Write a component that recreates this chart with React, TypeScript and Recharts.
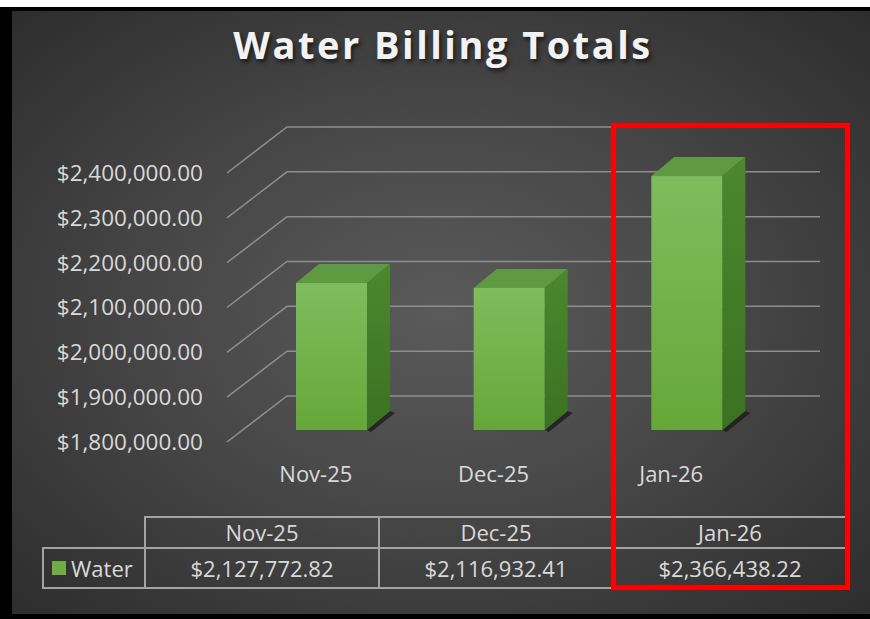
import React from "react";
import { BarChart, Bar, XAxis, YAxis, CartesianGrid } from "recharts";

const months = ["Nov-25", "Dec-25", "Jan-26"];
const waterTotals = [2127772.82, 2116932.41, 2366438.22];
const yTicks = [1800000, 1900000, 2000000, 2100000, 2200000, 2300000, 2400000];
const seriesName = "Water";
const chartTitle = "Water Billing Totals";

const data = months.map((m, i) => ({ month: m, water: waterTotals[i] }));

const FONT = "'Open Sans', 'Noto Sans', sans-serif";
const TEXT = "#d9d9d9";

// 3d offsets: back wall and bar placement in depth
const WALL_X = 60;
const WALL_Y = -46;
const OFF_X = 16;
const OFF_Y = -12;
const DEP_X = 23;
const DEP_Y = -19;

const money = (v: number) =>
  "$" + v.toLocaleString("en-US", { minimumFractionDigits: 2, maximumFractionDigits: 2 });

const Bar3D = (props: any) => {
  const { x, y, width, height, index } = props;
  const fx = x + OFF_X;
  const fy = y + OFF_Y;
  const w = width;
  const h = height;
  const fid = `front-${index}`;
  const sid = `side-${index}`;
  return (
    <g>
      <defs>
        <linearGradient id={fid} x1="0" y1="0" x2="0" y2="1">
          <stop offset="0%" stopColor="#7fbc5d" />
          <stop offset="100%" stopColor="#66a739" />
        </linearGradient>
        <linearGradient id={sid} x1="0" y1="0" x2="0" y2="1">
          <stop offset="0%" stopColor="#4c882e" />
          <stop offset="100%" stopColor="#3b7122" />
        </linearGradient>
      </defs>
      <polygon
        points={`${fx + w},${fy + h} ${fx + w + DEP_X},${fy + h + DEP_Y} ${fx + w + DEP_X + 5},${fy + h + DEP_Y + 2} ${fx + w + 4},${fy + h + 2}`}
        fill="#1c1c1c"
        opacity={0.8}
      />
      <polygon
        points={`${fx},${fy} ${fx + DEP_X},${fy + DEP_Y} ${fx + w + DEP_X},${fy + DEP_Y} ${fx + w},${fy}`}
        fill="#5f9941"
      />
      <polygon
        points={`${fx + w},${fy} ${fx + w + DEP_X},${fy + DEP_Y} ${fx + w + DEP_X},${fy + h + DEP_Y} ${fx + w},${fy + h}`}
        fill={`url(#${sid})`}
      />
      <rect x={fx} y={fy} width={w} height={h} fill={`url(#${fid})`} />
    </g>
  );
};

const gridLine = (p: any) => (
  <path
    key={p.key ?? `g-${p.index}`}
    d={`M${p.x1},${p.y1} L${p.x1 + WALL_X},${p.y1 + WALL_Y} L${p.x2 + WALL_X},${p.y1 + WALL_Y}`}
    stroke="#8e8e8e"
    strokeWidth={1.5}
    fill="none"
  />
);

const line = "2px solid #a3a3a3";

const App = () => {
  const colW = 234;
  const tableLeft = 144;
  return (
    <div style={{ position: "relative", width: 870, height: 619, background: "#fff", overflow: "hidden" }}>
      <style>{"body{margin:0}"}</style>
      <div
        style={{
          position: "absolute",
          left: 0,
          top: 7,
          width: 870,
          height: 612,
          boxSizing: "border-box",
          borderTop: "4px solid #000",
          borderLeft: "12px solid #000",
          borderBottom: "5px solid #000",
          background: "radial-gradient(ellipse at 50% 50%, #5a5a5a 0%, #484848 45%, #2d2d2d 100%)",
        }}
      />
      <div
        style={{
          position: "absolute",
          left: 0,
          width: 886,
          top: 18,
          textAlign: "center",
          fontFamily: FONT,
          fontWeight: 700,
          fontSize: 38,
          letterSpacing: 2.5,
          color: "#f2f2f2",
          textShadow: "2px 3px 4px rgba(0,0,0,0.6)",
        }}
      >
        {chartTitle}
      </div>
      <div style={{ position: "absolute", left: 0, top: 0 }}>
        <BarChart width={870} height={619} data={data} margin={{ top: 173, right: 110, bottom: 137, left: 0 }}>
          <CartesianGrid vertical={false} horizontal={gridLine} />
          <YAxis
            domain={[1800000, 2400000]}
            ticks={yTicks}
            width={227}
            tickSize={0}
            tickMargin={24}
            axisLine={false}
            tickLine={false}
            tickFormatter={money}
            tick={{ fill: TEXT, fontSize: 22.5, fontFamily: FONT }}
          />
          <XAxis
            dataKey="month"
            height={40}
            tickSize={0}
            tickMargin={24}
            axisLine={false}
            tickLine={false}
            tick={{ fill: TEXT, fontSize: 22, fontFamily: FONT }}
          />
          <Bar dataKey="water" name={seriesName} barSize={71} shape={Bar3D} isAnimationActive={false} />
        </BarChart>
      </div>
      {/* data table */}
      <div style={{ position: "absolute", left: 0, top: 0, fontFamily: FONT, fontSize: 22, color: TEXT }}>
        {months.map((m, i) => (
          <div
            key={`h-${m}`}
            style={{
              position: "absolute",
              left: tableLeft + i * colW,
              top: 516,
              width: colW,
              height: 31,
              borderTop: line,
              borderLeft: line,
              boxSizing: "border-box",
              textAlign: "center",
              lineHeight: "29px",
            }}
          >
            {m}
          </div>
        ))}
        <div
          style={{
            position: "absolute",
            left: 42,
            top: 547,
            width: tableLeft - 42,
            height: 42,
            border: line,
            borderRight: "none",
            boxSizing: "border-box",
            display: "flex",
            alignItems: "center",
            paddingLeft: 8,
          }}
        >
          <span style={{ display: "inline-block", width: 14, height: 14, background: "#70ad47", marginRight: 5 }} />
          {seriesName}
        </div>
        {waterTotals.map((v, i) => (
          <div
            key={`v-${i}`}
            style={{
              position: "absolute",
              left: tableLeft + i * colW,
              top: 547,
              width: colW,
              height: 42,
              borderTop: line,
              borderBottom: line,
              borderLeft: line,
              boxSizing: "border-box",
              textAlign: "center",
              lineHeight: "38px",
            }}
          >
            {money(v)}
          </div>
        ))}
      </div>
      <div
        style={{
          position: "absolute",
          left: 611,
          top: 123,
          width: 239,
          height: 467,
          border: "5px solid #ff0000",
          boxSizing: "border-box",
        }}
      />
    </div>
  );
};

export default App;
